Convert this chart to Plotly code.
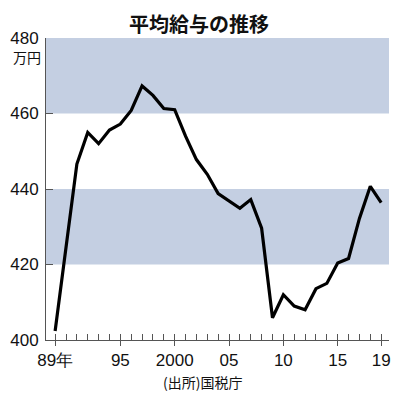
import plotly.graph_objects as go

years = list(range(1989, 2020))
salary = [402.4, 425.2, 446.6, 455.0, 452.0, 455.6, 457.2, 460.8, 467.3, 464.8,
          461.3, 461.0, 454.0, 447.8, 443.9, 438.8, 436.8, 434.9, 437.2, 429.6,
          405.9, 412.0, 409.0, 408.0, 413.6, 415.0, 420.4, 421.6, 432.2, 440.7, 436.4]
major_ticks = [1989, 1995, 2000, 2005, 2010, 2015, 2019]
major_labels = ["89年", "95", "2000", "05", "10", "15", "19"]
y_ticks = [400, 420, 440, 460, 480]
bands = [(420, 440), (460, 480)]

NUM_FONT = "Liberation Sans, Arial"
JP_FONT = "Noto Sans CJK JP"
AX = "#555555"
BAND = "#c4cfe2"

xr = [1988.16, 2019.72]

# page body has an 8px margin, so the figure is sized/positioned to compensate
W, H = 384, 383
L, T, R, B = 32, 30, 2, 51

fig = go.Figure()
fig.add_trace(go.Scatter(x=years, y=salary, mode="lines",
                         line=dict(color="black", width=3.2), showlegend=False,
                         hoverinfo="skip"))
fig.add_trace(go.Scatter(x=[years[0]], y=[salary[0]], xaxis="x2", mode="markers",
                         marker=dict(opacity=0), showlegend=False, hoverinfo="skip"))

shapes = []
for lo, hi in bands:
    shapes.append(dict(type="rect", xref="paper", yref="y", x0=0, x1=1, y0=lo, y1=hi,
                       fillcolor=BAND, line=dict(width=0), layer="below"))

fig.update_layout(
    width=W, height=H,
    margin=dict(l=L, r=R, t=T, b=B, pad=0),
    paper_bgcolor="white", plot_bgcolor="white",
    shapes=shapes,
    title=dict(text="<b>平均給与の推移</b>", x=(199 - 8) / W, xanchor="center",
               y=1 - 17 / H, yanchor="middle", yref="container",
               font=dict(family=JP_FONT, size=20, color="#111111")),
    xaxis=dict(range=xr, tickmode="array", tickvals=major_ticks, ticktext=major_labels,
               ticks="outside", ticklen=5, tickwidth=1, tickcolor=AX,
               showline=True, linecolor=AX, linewidth=1,
               showgrid=False, zeroline=False,
               tickfont=dict(family=NUM_FONT, size=17, color="#111111"),
               minor=dict(dtick=1, tick0=1989, ticks="inside", ticklen=6,
                          tickcolor=AX, tickwidth=1, showgrid=False)),
    xaxis2=dict(range=xr, overlaying="x", anchor="y", side="bottom",
                tickmode="array", tickvals=major_ticks, showticklabels=False,
                ticks="inside", ticklen=6, tickwidth=1, tickcolor=AX,
                showline=False, showgrid=False, zeroline=False),
    yaxis=dict(range=[400, 480], tickmode="array", tickvals=y_ticks,
               ticks="inside", ticklen=7, tickwidth=1, tickcolor=AX,
               showline=True, linecolor=AX, linewidth=1,
               showgrid=False, zeroline=False, ticklabelstandoff=3,
               tickfont=dict(family=NUM_FONT, size=17, color="#111111")),
    annotations=[
        dict(text="万円", xref="paper", x=0, xanchor="right", xshift=-3,
             yref="y", y=480, yanchor="middle", yshift=-19, showarrow=False,
             font=dict(family=JP_FONT, size=14, color="#111111")),
        dict(text="(出所)国税庁", xref="paper", x=(200 - 40) / (W - L - R),
             xanchor="center",
             yref="paper", y=0, yanchor="middle", yshift=-42, showarrow=False,
             font=dict(family=JP_FONT, size=14, color="#111111")),
    ],
)

fig.write_html("out.html")
